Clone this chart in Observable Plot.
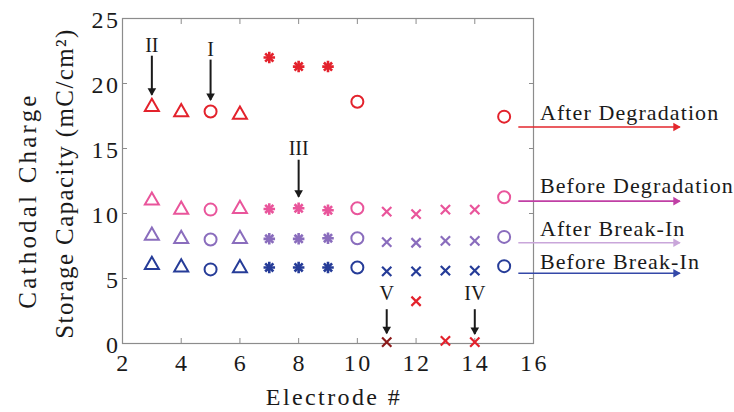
<!DOCTYPE html>
<html>
<head>
<meta charset="utf-8">
<script src="https://cdn.jsdelivr.net/npm/d3@7"></script>
<script src="https://cdn.jsdelivr.net/npm/@observablehq/plot@0.6"></script>
<style>
  html, body { margin: 0; padding: 0; background: #fff; }
  #chart svg { display: block; }
  g[aria-label="x-axis tick label"] text { letter-spacing: 2.5px; }
  g[aria-label="y-axis tick label"] text { letter-spacing: 2.5px; }
  g[aria-description="ylabel-1"] text { letter-spacing: 3.2px; }
  g[aria-description="ylabel-2"] text { letter-spacing: 1.4px; }
  g[aria-description="xlabel"] text { letter-spacing: 2.4px; }
  g[aria-description="legend-text"] text { letter-spacing: 1.1px; }
</style>
</head>
<body>
<div id="chart"></div>
<script>
// ---------- data ----------
const electrodes = [3, 4, 5, 6, 7, 8, 9, 10, 11, 12, 13, 14, 15];
const markerShapes = ["triangle", "triangle", "circle", "triangle", "asterisk", "asterisk", "asterisk",
                      "circle", "cross", "cross", "cross", "cross", "circle"];
const seriesNames = ["Before Break-In", "After Break-In", "Before Degradation", "After Degradation"];
const beforeBreakIn     = [6.05, 5.85, 5.7, 5.8, 5.85, 5.85, 5.85, 5.85, 5.55, 5.55, 5.6, 5.6, 5.95];
const afterBreakIn      = [8.3, 8.05, 8.0, 8.05, 8.05, 8.05, 8.1, 8.1, 7.8, 7.75, 7.9, 7.9, 8.2];
const beforeDegradation = [11.0, 10.3, 10.3, 10.35, 10.35, 10.4, 10.25, 10.4, 10.15, 9.95, 10.3, 10.3, 11.25];
const afterDegradation  = [18.2, 17.8, 17.85, 17.6, 22.0, 21.3, 21.3, 18.6, 0.1, 3.25, 0.2, 0.1, 17.45];
const xTicks = [2, 4, 6, 8, 10, 12, 14, 16];
const yTicks = [0, 5, 10, 15, 20, 25];

// callout annotations (roman numerals)
const calloutLabels     = ["II", "I", "III", "V", "IV"];
const calloutElectrodes = [3, 5, 8, 11, 14];
const calloutLabelAt    = [22.9, 22.6, 15.0, 3.85, 3.85];
const calloutStartAt    = [22.1, 21.8, 14.1, 2.6, 2.6];
const calloutTipAt      = [19.1, 18.7, 11.25, 0.75, 0.7];

// series label arrows on the right (same order as seriesNames)
const legendArrowAt = [5.4, 7.75, 10.95, 16.65];
const legendTextAt  = [6.3, 8.8, 12.1, 17.75];
const legendArrowFrom = 15.5, legendArrowTo = 21.0, legendTextFrom = 16.22;

// ---------- styles ----------
const seriesColors = ["#263c98", "#8a6dbd", "#e9559b", "#e3222c"];
const arrowColors  = ["#3448a8", "#c9a6da", "#c03fa5", "#e3262c"];
const failedColor  = "#8c1b1b";
const ink = "#1a1a1a";
const frameGray = "#8c8c8c";

// ---------- tables ----------
const seriesValues = [beforeBreakIn, afterBreakIn, beforeDegradation, afterDegradation];
const rows = seriesValues.flatMap((vals, s) => electrodes.map((e, i) => ({
  series: seriesNames[s], electrode: e, value: vals[i], shape: markerShapes[i],
  color: (s === 3 && e === 11) ? failedColor : seriesColors[s]
})));
const byShape = (k) => rows.filter(d => d.shape === k);
const callouts = calloutLabels.map((t, i) => ({
  label: t, x: calloutElectrodes[i], yl: calloutLabelAt[i], y1: calloutStartAt[i], y2: calloutTipAt[i]
}));
const legendRows = seriesNames.map((n, i) => ({
  name: n, y: legendArrowAt[i], ty: legendTextAt[i], x1: legendArrowFrom, x2: legendArrowTo,
  tx: legendTextFrom, color: arrowColors[i]
}));

const common = {x: "electrode", y: "value", stroke: "color", fill: "none"};

const chart = Plot.plot({
  width: 734,
  height: 412,
  marginLeft: 122,
  marginRight: 201,
  marginTop: 18,
  marginBottom: 69,
  style: {fontFamily: "'Liberation Serif', serif", background: "#fff", color: ink},
  x: {domain: [2, 16], label: null},
  y: {domain: [0, 25], label: null},
  color: {type: "identity"},
  marks: [
    Plot.frame({stroke: frameGray, strokeWidth: 1.2}),
    // inward ticks on all four sides
    Plot.axisX({anchor: "bottom", ticks: xTicks, tickSize: -5, stroke: frameGray, fill: "none", label: null}),
    Plot.axisX({anchor: "top", ticks: xTicks, tickSize: -5, stroke: frameGray, fill: "none", label: null}),
    Plot.axisY({anchor: "left", ticks: yTicks, tickSize: -5, stroke: frameGray, fill: "none", label: null}),
    Plot.axisY({anchor: "right", ticks: yTicks, tickSize: -5, stroke: frameGray, fill: "none", label: null}),
    // tick labels
    Plot.axisX({anchor: "bottom", ticks: xTicks, tickSize: 0, tickPadding: 10, fontSize: 24, fill: ink, label: null, dx: 1}),
    Plot.axisY({anchor: "left", ticks: yTicks, tickSize: 0, tickPadding: 2, fontSize: 24, fill: ink, label: null, dy: 2}),
    // axis titles
    Plot.text(["Electrode #"], {frameAnchor: "bottom", text: d => d, dy: 54, dx: 6, fontSize: 24, fill: ink,
      textAnchor: "middle", lineAnchor: "middle", ariaDescription: "xlabel"}),
    Plot.text(["Cathodal Charge"], {frameAnchor: "left", text: d => d, rotate: -90, dx: -95, dy: 19.5,
      fontSize: 25, fill: ink, textAnchor: "middle", lineAnchor: "middle", ariaDescription: "ylabel-1"}),
    Plot.text(["Storage Capacity (mC/cm²)"], {frameAnchor: "left", text: d => d, rotate: -90, dx: -58, dy: 2.5,
      fontSize: 25, fill: ink, textAnchor: "middle", lineAnchor: "middle", ariaDescription: "ylabel-2"}),
    // data markers
    Plot.dot(byShape("circle"), {...common, symbol: "circle", r: 6, strokeWidth: 2}),
    Plot.dot(byShape("triangle"), {...common, symbol: "triangle", r: 5.2, strokeWidth: 2}),
    Plot.dot(byShape("cross"), {...common, symbol: "times", r: 4.3, strokeWidth: 2.2}),
    Plot.dot(byShape("asterisk"), {...common, symbol: "plus", r: 3.8, strokeWidth: 2.6}),
    Plot.dot(byShape("asterisk"), {...common, symbol: "times", r: 3.8, strokeWidth: 2.6}),
    // callouts
    Plot.ruleX(callouts, {x: "x", y1: "y1", y2: "y2", stroke: ink, strokeWidth: 2}),
    Plot.dot(callouts, {x: "x", y: "y2", symbol: "triangle", rotate: 180, r: 3.2, fill: ink, stroke: "none", dy: -4.5}),
    Plot.text(callouts, {x: "x", y: "yl", text: "label", fontSize: 20, fill: ink, lineAnchor: "middle"}),
    // series label arrows
    Plot.ruleY(legendRows, {y: "y", x1: "x1", x2: "x2", stroke: "color", strokeWidth: 1.6}),
    Plot.dot(legendRows, {x: "x2", y: "y", symbol: "triangle", rotate: 90, r: 3.2, fill: "color", stroke: "none", dx: -4.5}),
    Plot.text(legendRows, {x: "tx", y: "ty", text: "name", textAnchor: "start", fontSize: 22, fill: ink,
      lineAnchor: "middle", ariaDescription: "legend-text"})
  ]
});
document.getElementById("chart").appendChild(chart);
</script>
</body>
</html>
